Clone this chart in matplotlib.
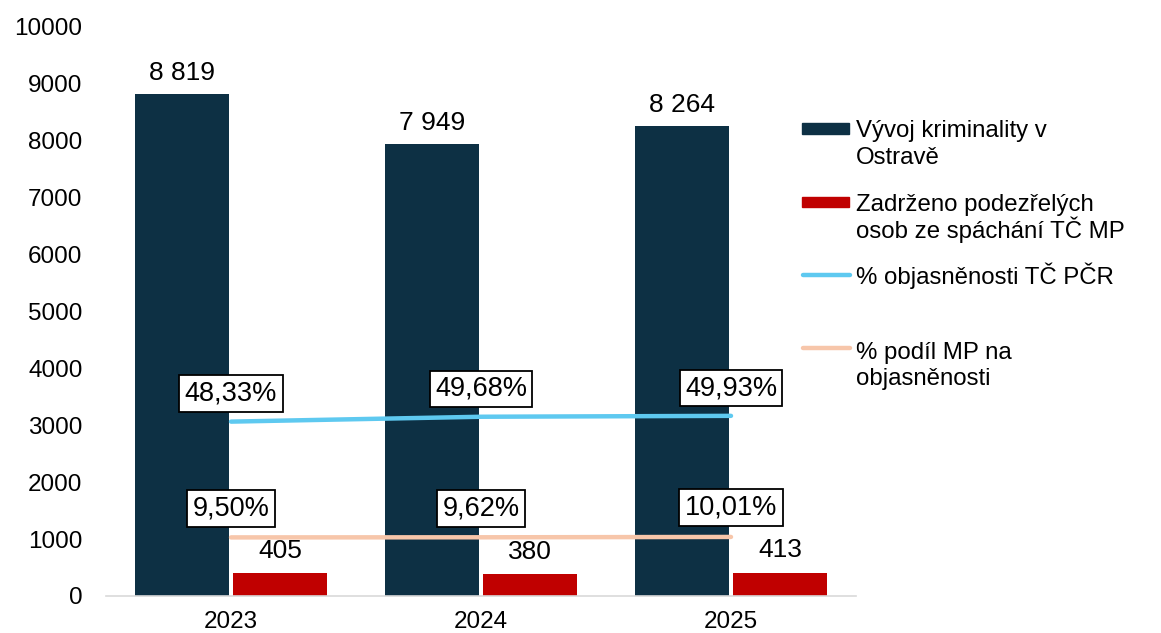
import matplotlib
matplotlib.use("Agg")
import matplotlib.pyplot as plt
from matplotlib.patches import Rectangle
from matplotlib.lines import Line2D
import numpy as np

plt.rcParams['font.family'] = ['Liberation Sans', 'DejaVu Sans']

years = ["2023", "2024", "2025"]
crime = [8819, 7949, 8264]
detained = [405, 380, 413]
pct_pcr = [48.33, 49.68, 49.93]
pct_mp = [9.50, 9.62, 10.01]
pct_pcr_labels = ["48,33%", "49,68%", "49,93%"]
pct_mp_labels = ["9,50%", "9,62%", "10,01%"]
legend_labels = ["Vývoj kriminality v\nOstravě",
                 "Zadrženo podezřelých\nosob ze spáchání TČ MP",
                 "% objasněnosti TČ PČR",
                 "% podíl MP na\nobjasněnosti"]

NAVY = "#0D3044"
RED = "#C00000"
BLUE = "#5EC9F0"
PEACH = "#F7C6AA"

W, H = 1161, 633
fig = plt.figure(figsize=(W / 100, H / 100), dpi=100)
ax = fig.add_axes([106 / W, 1 - 596 / H, 750 / W, (596 - 27) / H])

x = np.arange(len(years))
bw = 0.376
off = 0.196
ax.bar(x - off, crime, bw, color=NAVY, zorder=2)
ax.bar(x + off, detained, bw, color=RED, zorder=2)

ax.set_xlim(-0.5, 2.5)
ax.set_ylim(0, 10000)
ax.set_yticks(np.arange(0, 10001, 1000))
ax.set_xticks(x)
ax.set_xticklabels(years)
ax.tick_params(axis='y', length=0, pad=17, labelsize=17.5)
ax.tick_params(axis='x', length=0, pad=11, labelsize=17.5)
for s in ['top', 'right', 'left']:
    ax.spines[s].set_visible(False)
ax.spines['bottom'].set_color('#D9D9D9')
ax.spines['bottom'].set_linewidth(1.2)

def fmt(v):
    return f"{v:,}".replace(",", " ")

for xi, v in zip(x - off, crime):
    ax.annotate(fmt(v), (xi, v), xytext=(0, 10), textcoords='offset points',
                ha='center', va='baseline', fontsize=19, color='black')
for xi, v in zip(x + off, detained):
    ax.annotate(fmt(v), (xi, v), xytext=(0, 11), textcoords='offset points',
                ha='center', va='baseline', fontsize=19, color='black')

ax2 = ax.twinx()
ax2.set_ylim(0, 157.7)
ax2.axis('off')
ax2.plot(x, pct_pcr, color=BLUE, lw=3.2, solid_capstyle='round', zorder=3)
for xi, v, lab in zip(x, pct_pcr, pct_pcr_labels):
    ax2.annotate(lab, (xi, v), xytext=(0, 20), textcoords='offset points',
                 ha='center', va='center', fontsize=19.5,
                 bbox=dict(boxstyle='square,pad=0.2', fc='white', ec='black', lw=1.3))

ax3 = ax.twinx()
ax3.set_ylim(-56, 580)
ax3.axis('off')
ax3.plot(x, pct_mp, color=PEACH, lw=3.2, solid_capstyle='round', zorder=3)
for xi, v, lab in zip(x, pct_mp, pct_mp_labels):
    ax3.annotate(lab, (xi, v), xytext=(0, 21), textcoords='offset points',
                 ha='center', va='center', fontsize=19.5,
                 bbox=dict(boxstyle='square,pad=0.2', fc='white', ec='black', lw=1.3))

# manual legend (figure pixel coords)
def fx(px):
    return px / W

def fy(py):
    return 1 - py / H

fig.patches.append(Rectangle((fx(802), fy(134)), 47 / W, 11 / H, color=NAVY,
                             transform=fig.transFigure, figure=fig))
fig.patches.append(Rectangle((fx(802), fy(207)), 47 / W, 10 / H, color=RED,
                             transform=fig.transFigure, figure=fig))
fig.lines.append(Line2D([fx(803), fx(850)], [fy(275), fy(275)], color=BLUE, lw=3.2,
                        solid_capstyle='round', transform=fig.transFigure, figure=fig))
fig.lines.append(Line2D([fx(803), fx(850)], [fy(348), fy(348)], color=PEACH, lw=3.2,
                        solid_capstyle='round', transform=fig.transFigure, figure=fig))

baselines = [[137, 164], [211, 238], [284], [359, 385]]
for lab, bls in zip(legend_labels, baselines):
    for line, bl in zip(lab.split("\n"), bls):
        fig.text(fx(856), fy(bl), line, ha='left', va='baseline', fontsize=17.3)

fig.savefig("out.png", dpi=100)
